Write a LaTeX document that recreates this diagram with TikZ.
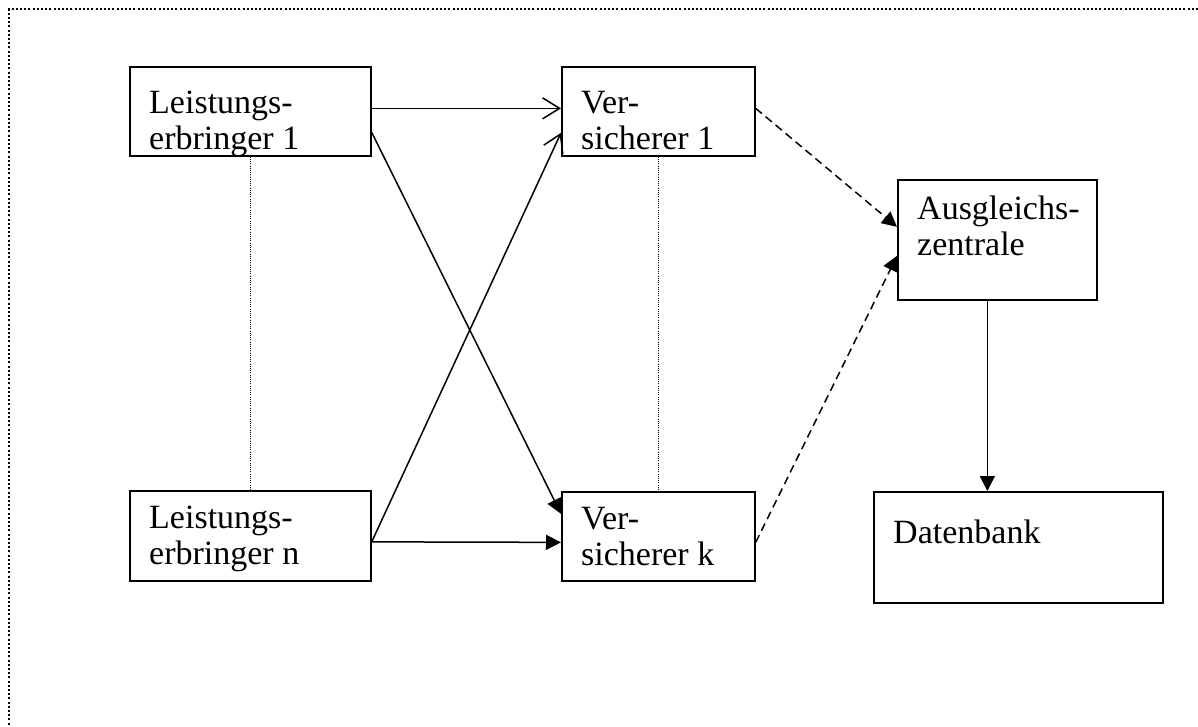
\documentclass[tikz,border=0pt]{standalone}
\usepackage{fontspec}
\setmainfont{Liberation Serif}
\usetikzlibrary{arrows.meta}
\begin{document}
\begin{tikzpicture}[x=1pt,y=-1pt,
  box/.style={draw, line width=1.7pt, inner sep=0pt, anchor=north west},
  txt/.style={anchor=north west, inner sep=0pt, align=left, font=\fontsize{34}{36}\selectfont},
  conn/.style={line width=1.5pt},
  openhead/.style={-{Straight Barb[length=17pt,width=21pt,line width=1.5pt]}},
  fillhead/.style={-{Triangle[length=15pt,width=15pt]}},
  dashconn/.style={line width=1.5pt, dash pattern=on 8pt off 5pt},
  dotconn/.style={line width=0.8pt, dash pattern=on 1pt off 1.2pt},
  border/.style={line width=1.3pt, dash pattern=on 2pt off 2.2pt}
]
\useasboundingbox (0,0) rectangle (1198,726);
\draw[border] (1198,9) -- (9,9) -- (9,726);

\node[box, minimum width=241pt, minimum height=89pt] (le1) at (129,66) {};
\node[box, minimum width=193pt, minimum height=89pt] (v1) at (561,66) {};
\node[box, minimum width=199pt, minimum height=120pt] (az) at (897,179) {};
\node[box, minimum width=241pt, minimum height=90pt] (len) at (129,490) {};
\node[box, minimum width=193pt, minimum height=89pt] (vk) at (561,491) {};
\node[box, minimum width=289pt, minimum height=111pt] (db) at (873,491) {};

\node[txt] (le1t) at ([xshift=20pt,yshift=-25pt]le1.north west) {Leistungs-\\erbringer 1};
\node[txt] (v1t) at ([xshift=20pt,yshift=-25pt]v1.north west) {Ver-\\sicherer 1};
\node[txt] (azt) at ([xshift=20pt,yshift=-17pt]az.north west) {Ausgleichs-\\zentrale};
\node[txt] (lent) at ([xshift=20pt,yshift=-16pt]len.north west) {Leistungs-\\erbringer n};
\node[txt] (vkt) at ([xshift=20pt,yshift=-16pt]vk.north west) {Ver-\\sicherer k};
\node[txt] (dbt) at ([xshift=20pt,yshift=-29pt]db.north west) {Datenbank};

\draw[dotconn] (le1.south) -- (len.north);
\draw[dotconn] (v1.south) -- (vk.north);

\draw[conn, openhead] ([yshift=3pt]le1.east) -- ([yshift=3pt]v1.west);
\draw[conn, fillhead] ([yshift=-21pt]le1.east) -- ([yshift=22.5pt]vk.west);
\draw[conn, openhead] ([yshift=-6pt]len.east) -- ([yshift=-21.5pt]v1.west);
\draw[conn, fillhead] ([yshift=-6pt]len.east) -- ([yshift=-6pt]vk.west);
\draw[dashconn, fillhead] ([yshift=3pt]v1.east) -- ([yshift=13pt]az.west);
\draw[dashconn, fillhead] ([yshift=-6pt]vk.east) -- ([yshift=-16pt]az.west);
\coordinate (azout) at ([xshift=-10pt]az.south);
\draw[conn, fillhead] (azout) -- (azout |- db.north);
\end{tikzpicture}
\end{document}
